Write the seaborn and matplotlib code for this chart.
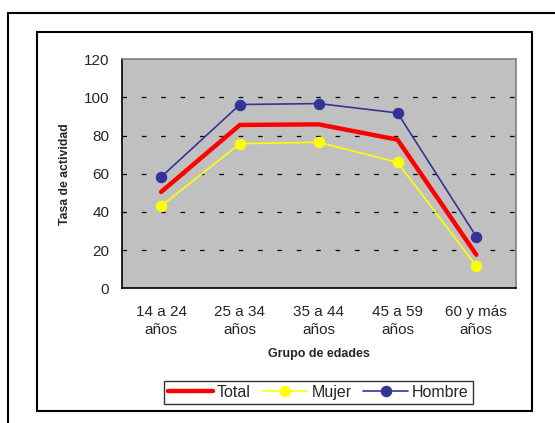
import matplotlib
matplotlib.use("Agg")
import matplotlib.pyplot as plt
from matplotlib.lines import Line2D
from matplotlib.patches import Rectangle
import numpy as np
import pandas as pd
import seaborn as sns

# data
grupos = ["14 a 24\naños", "25 a 34\naños", "35 a 44\naños", "45 a 59\naños", "60 y más\naños"]
total = [50.5, 85.6, 85.9, 77.9, 17.6]
mujer = [43.1, 75.8, 76.5, 66.0, 11.7]
hombre = [58.3, 96.3, 96.8, 91.9, 27.1]

sns.set_style("white")
plt.rcParams["font.family"] = ["Liberation Sans", "DejaVu Sans"]

W, H = 555, 423
fig = plt.figure(figsize=(W / 100, H / 100), dpi=100)
ax = fig.add_axes([121.7 / W, 1 - 288.3 / H, 394 / W, 229 / H])
ax.set_facecolor("#C0C0C0")

df = pd.DataFrame({"grupo": grupos, "Total": total, "Mujer": mujer, "Hombre": hombre})

sns.lineplot(data=df, x="grupo", y="Total", ax=ax, color="#FF0000", lw=3.2,
             label="Total", sort=False)
sns.lineplot(data=df, x="grupo", y="Mujer", ax=ax, color="#FFFF00", lw=1.2,
             marker="o", markersize=7.5, markeredgecolor="#FFFF00", label="Mujer", sort=False)
sns.lineplot(data=df, x="grupo", y="Hombre", ax=ax, color="#333399", lw=1.2,
             marker="o", markersize=7.5, markeredgecolor="#333399", label="Hombre", sort=False)

ax.set_ylim(0, 120)
ax.set_yticks(np.arange(0, 121, 20))
ax.set_xlim(-0.5, 4.5)
ax.set_xticks(range(5))
ax.set_xticklabels(grupos, fontsize=11, linespacing=1.4)
ax.set_xticks(np.arange(-0.5, 4.6, 1), minor=True)
ax.tick_params(axis="x", which="major", length=0, pad=12)
ax.tick_params(axis="x", which="minor", length=5, width=1, color="black", direction="out")
ax.tick_params(axis="y", length=5, width=1, color="black", direction="out", labelsize=11, pad=4)

for y in range(20, 101, 20):
    ax.axhline(y, color="black", lw=0.9, ls=(0, (3.6, 11.9)), zorder=0.5)

for s in ["left", "bottom"]:
    ax.spines[s].set_color("black")
    ax.spines[s].set_linewidth(1.2)
for s in ["top", "right"]:
    ax.spines[s].set_color("#808080")
    ax.spines[s].set_linewidth(1.2)

ax.set_ylabel("Tasa de actividad", fontsize=8.8, fontweight="bold", labelpad=9)
ax.set_xlabel("Grupo de edades", fontsize=9, fontweight="bold", labelpad=8)

leg = ax.legend(loc="center", bbox_to_anchor=(318.5 / W, 1 - 392.5 / H),
                bbox_transform=fig.transFigure, ncol=3, fontsize=11.5, frameon=True,
                fancybox=False, handlelength=2.8, handletextpad=0.25, columnspacing=0.75,
                borderpad=0.25, borderaxespad=0)
leg.get_frame().set_edgecolor("black")
leg.get_frame().set_linewidth(1)

# chart frames
fig.add_artist(Rectangle((36.5 / W, 1 - 411 / H), 495.5 / W, 379 / H,
                         transform=fig.transFigure, fill=False, ec="black", lw=1.5))
fig.add_artist(Line2D([8.3 / W, 1], [1 - 13.3 / H, 1 - 13.3 / H],
                      transform=fig.transFigure, color="black", lw=1.5))
fig.add_artist(Line2D([8.3 / W, 8.3 / W], [0, 1 - 13.3 / H],
                      transform=fig.transFigure, color="black", lw=1.5))

fig.savefig("out.png", dpi=100)
